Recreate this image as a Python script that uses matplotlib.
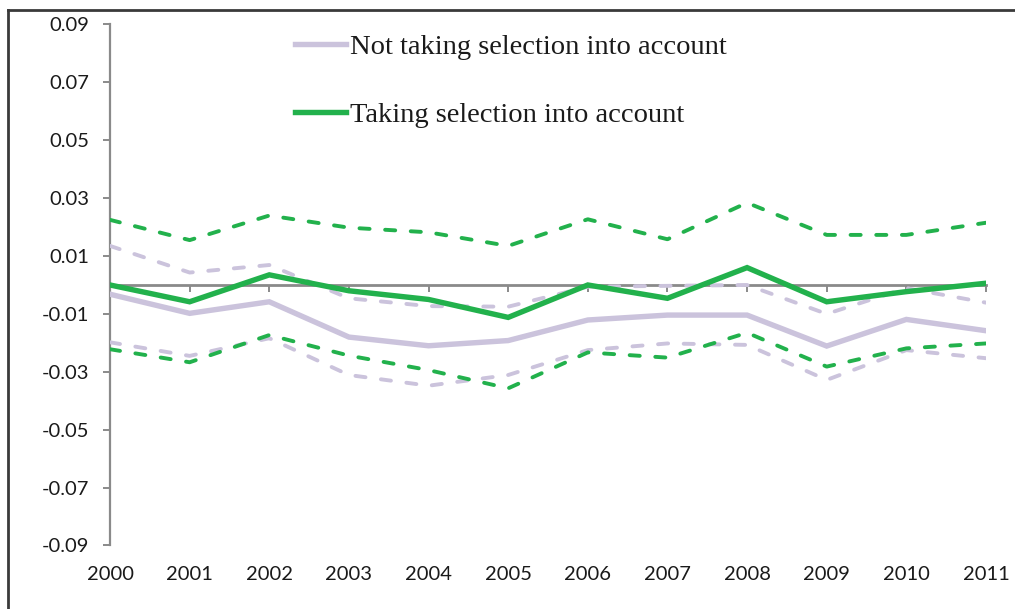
import matplotlib
matplotlib.use('Agg')
import matplotlib.pyplot as plt
from matplotlib.lines import Line2D

# ── Data ─────────────────────────────────────────────────────────────
years = list(range(2000, 2012))

# estimate not taking selection into account (point + bounds)
no_sel = [-0.0032, -0.0098, -0.0058, -0.0180, -0.0210, -0.0192,
          -0.0121, -0.0104, -0.0104, -0.0211, -0.0119, -0.0158]
no_sel_hi = [0.0135, 0.0043, 0.0069, -0.0046, -0.0073, -0.0075,
             -0.0006, -0.0003, 0.0000, -0.0100, -0.0011, -0.0061]
no_sel_lo = [-0.0198, -0.0245, -0.0184, -0.0311, -0.0348, -0.0311,
             -0.0225, -0.0202, -0.0207, -0.0328, -0.0225, -0.0253]

# estimate taking selection into account (point + bounds)
sel = [0.0000, -0.0058, 0.0035, -0.0020, -0.0050, -0.0112,
       0.0000, -0.0046, 0.0060, -0.0058, -0.0023, 0.0006]
sel_hi = [0.0225, 0.0155, 0.0240, 0.0198, 0.0182, 0.0135,
          0.0227, 0.0158, 0.0284, 0.0173, 0.0173, 0.0215]
sel_lo = [-0.0222, -0.0267, -0.0173, -0.0244, -0.0294, -0.0357,
          -0.0233, -0.0251, -0.0165, -0.0282, -0.0219, -0.0202]

y_ticks = [-0.09, -0.07, -0.05, -0.03, -0.01, 0.01, 0.03, 0.05, 0.07, 0.09]
y_labels = ['-0.09', '-0.07', '-0.05', '-0.03', '-0.01',
            '0.01', '0.03', '0.05', '0.07', '0.09']

LAVENDER = '#cbc3dc'
GREEN = '#22b14c'
GREY = '#8a8a8a'

# ── Figure ───────────────────────────────────────────────────────────
fig = plt.figure(figsize=(10.15, 6.09), dpi=100)
ax = fig.add_axes([0.1084, 0.1043, 0.8630, 0.8555])

dash_kw = dict(lw=2.8, dashes=(2.6, 4.0), dash_capstyle='round')
ax.plot(years, no_sel_hi, color=LAVENDER, zorder=3, **dash_kw)
ax.plot(years, no_sel_lo, color=LAVENDER, zorder=3, **dash_kw)
ax.plot(years, no_sel, color=LAVENDER, lw=3.9, zorder=3,
        solid_joinstyle='miter')
ax.plot(years, sel_hi, color=GREEN, zorder=4, **dash_kw)
ax.plot(years, sel_lo, color=GREEN, zorder=4, **dash_kw)
ax.plot(years, sel, color=GREEN, lw=3.9, zorder=4, solid_joinstyle='miter')

ax.set_xlim(2000, 2011)
ax.set_ylim(-0.09, 0.09)

# axes styling: y axis on the left, x axis running through zero
for side in ['top', 'right']:
    ax.spines[side].set_visible(False)
ax.spines['left'].set_color(GREY)
ax.spines['left'].set_linewidth(1.6)
ax.spines['bottom'].set_position(('data', 0))
ax.spines['bottom'].set_color(GREY)
ax.spines['bottom'].set_linewidth(2.0)
for sp in ax.spines.values():
    sp.set_zorder(2)

ax.set_yticks(y_ticks)
ax.set_yticklabels(y_labels)
ax.set_xticks(years)
ax.tick_params(axis='y', direction='out', length=5, width=1.4, color=GREY,
               pad=10, labelsize=14.5, labelcolor='#1a1a1a')
ax.tick_params(axis='x', direction='out', length=5, width=1.4, color=GREY,
               labelbottom=False)
for lab in ax.get_yticklabels():
    lab.set_fontfamily('Lato')

# year labels sit below the plot area, not on the zero line
for yr in years:
    ax.annotate(str(yr), xy=(yr, -0.09), xytext=(0, -24.5),
                textcoords='offset points', ha='center', va='baseline',
                fontsize=14.5, fontfamily='Lato', color='#1a1a1a')

# legend
handles = [Line2D([], [], color=LAVENDER, lw=3.9),
           Line2D([], [], color=GREEN, lw=3.9)]
leg = fig.legend(handles,
                 ['Not taking selection into account',
                  'Taking selection into account'],
                 loc='upper left', bbox_to_anchor=(295 / 1015, 1 - 34 / 609),
                 frameon=False, handlelength=1.8, handletextpad=0.12,
                 labelspacing=1.47, borderaxespad=0, borderpad=0,
                 prop={'family': 'Liberation Serif', 'size': 20.5})
for t in leg.get_texts():
    t.set_color('#1a1a1a')

# outer frame (top and left edges)
fig.add_artist(Line2D([8 / 1015, 8 / 1015], [0, 1 - 10 / 609],
                      transform=fig.transFigure, color='#3a3a3a', lw=2.0))
fig.add_artist(Line2D([8 / 1015, 1], [1 - 10 / 609, 1 - 10 / 609],
                      transform=fig.transFigure, color='#3a3a3a', lw=2.0))

fig.savefig('out.png', dpi=100)
